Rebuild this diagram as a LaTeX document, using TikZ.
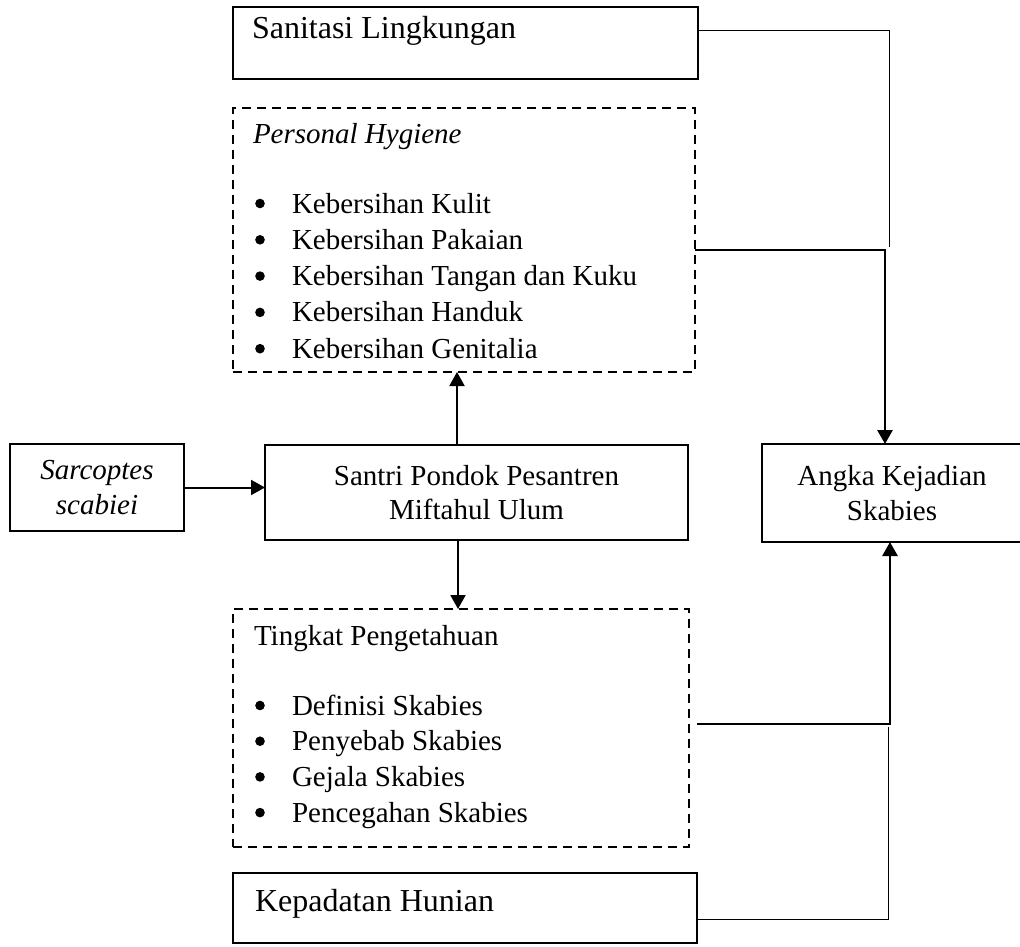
\documentclass[tikz,border=0pt]{standalone}
\usepackage{fontspec}
\setmainfont{Liberation Serif}
\usetikzlibrary{arrows.meta}
\tikzset{
  box/.style={draw, line width=1.4pt, inner sep=0pt, outer sep=0pt, anchor=north west},
  dbox/.style={box, dash pattern=on 9pt off 6pt},
  txt/.style={inner sep=0pt, outer sep=0pt, anchor=base west},
  bul/.style={fill=black},
  conn/.style={line width=1pt},
  arr/.style={line width=2pt, -{Triangle[length=14pt,width=15pt]}},
  tarr/.style={line width=2.8pt, -{Triangle[length=14pt,width=15pt]}},
}
\begin{document}
\begin{tikzpicture}[x=1pt,y=-1pt,font=\fontsize{29}{34.5}\selectfont]
\fill[white] (0,0) rectangle (1020,947);
\useasboundingbox (0,0) rectangle (1020,947);

% Sanitasi Lingkungan
\node[box, minimum width=465pt, minimum height=72pt] (san) at (233,7) {};
\node[txt, font=\fontsize{32}{38}\selectfont] (santxt) at (252,39) {Sanitasi Lingkungan};

% Personal Hygiene
\node[dbox, minimum width=462pt, minimum height=264pt] (ph) at (233,108) {};
\node[txt] (phtitle) at (253,143) {\itshape Personal Hygiene};
\foreach \t [count=\i] in {Kebersihan Kulit, Kebersihan Pakaian, Kebersihan Tangan dan Kuku, Kebersihan Handuk, Kebersihan Genitalia}{
  \node[txt] (ph\i) at (292,{213+36.3*(\i-1)}) {\t};
  \fill[bul] (260,{203.5+36.3*(\i-1)}) circle (4.8pt);
}

% Sarcoptes scabiei
\node[box, minimum width=174pt, minimum height=87pt, align=center] (sar) at (10,444) {\itshape Sarcoptes\\\itshape scabiei};

% Santri
\node[box, minimum width=423pt, minimum height=95pt, align=center] (santri) at (265,445) {Santri Pondok Pesantren\\Miftahul Ulum};

% Angka Kejadian Skabies
\node[box, minimum width=260pt, minimum height=98pt, align=center] (angka) at (762,444) {Angka Kejadian\\Skabies};

% Tingkat Pengetahuan
\node[dbox, minimum width=456pt, minimum height=238pt] (ting) at (233,609) {};
\node[txt] (tingtitle) at (254,645) {Tingkat Pengetahuan};
\foreach \t [count=\i] in {Definisi Skabies, Penyebab Skabies, Gejala Skabies, Pencegahan Skabies}{
  \node[txt] (ting\i) at (292,{715+35.7*(\i-1)}) {\t};
  \fill[bul] (260,{705.5+35.7*(\i-1)}) circle (4.8pt);
}

% Kepadatan Hunian
\node[box, minimum width=464pt, minimum height=70pt] (kep) at (233,873) {};
\node[txt, font=\fontsize{32}{38}\selectfont] (keptxt) at (255,911) {Kepadatan Hunian};

% free ends
\coordinate (sanend) at (889,247);
\coordinate (kepend) at (888,727);

% connectors
\draw[conn] ([yshift=12pt]san.east) -| (sanend);
\draw[tarr] ([yshift=-10pt]ph.east) -| ([xshift=-7pt]angka.north);
\draw[tarr] ([xshift=8pt,yshift=4pt]ting.east) -| ([xshift=-2pt]angka.south);
\draw[conn] ([yshift=-11pt]kep.east) -| (kepend);

\draw[arr] (sar.east) -- (sar.east -| santri.west);
\draw[arr] ([xshift=-19.5pt]santri.north) -- ([xshift=-19.5pt]santri.north |- ph.south);
\draw[arr] ([xshift=-18.5pt]santri.south) -- ([xshift=-18.5pt]santri.south |- ting.north);
\end{tikzpicture}
\end{document}
